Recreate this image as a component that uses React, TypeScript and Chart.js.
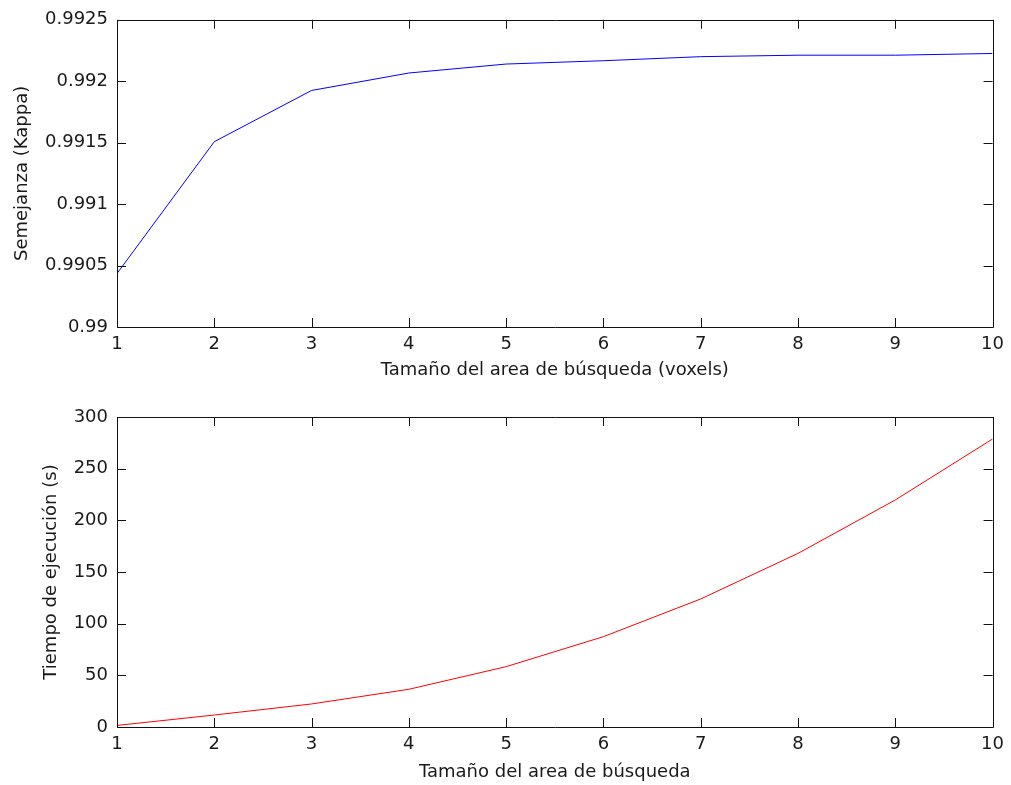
import React, { useEffect, useRef } from "react";
import { Chart, registerables } from "chart.js";

Chart.register(...registerables);

const xValues = [1, 2, 3, 4, 5, 6, 7, 8, 9, 10];
const kappaValues = [0.990435, 0.991508, 0.991925, 0.992067, 0.99214, 0.992167, 0.9922, 0.992212, 0.992212, 0.992226];
const timeValues = [1.5, 11.6, 22.3, 36.5, 58.4, 87.4, 123.9, 168, 219.7, 278.7];

const topXTitle = "Tamaño del area de búsqueda (voxels)";
const topYTitle = "Semejanza (Kappa)";
const bottomXTitle = "Tamaño del area de búsqueda";
const bottomYTitle = "Tiempo de ejecución (s)";

const FONT = "'DejaVu Sans', sans-serif";
const TEXT = "#1a1a1a";

const boxPlugin = {
  id: "matlabBox",
  afterDraw(chart: any) {
    const { ctx, chartArea } = chart;
    const { left, right, top, bottom } = chartArea;
    const tl = 9;
    ctx.save();
    ctx.strokeStyle = "#111";
    ctx.lineWidth = 1;
    ctx.beginPath();
    ctx.rect(Math.round(left) + 0.5, Math.round(top) + 0.5, Math.round(right - left), Math.round(bottom - top));
    const xs = chart.scales.x;
    xs.ticks.forEach((t: any) => {
      const px = Math.round(xs.getPixelForValue(t.value)) + 0.5;
      ctx.moveTo(px, bottom);
      ctx.lineTo(px, bottom - tl);
      ctx.moveTo(px, top);
      ctx.lineTo(px, top + tl);
    });
    const ys = chart.scales.y;
    ys.ticks.forEach((t: any) => {
      const py = Math.round(ys.getPixelForValue(t.value)) + 0.5;
      ctx.moveTo(left, py);
      ctx.lineTo(left + tl, py);
      ctx.moveTo(right, py);
      ctx.lineTo(right - tl, py);
    });
    ctx.stroke();
    ctx.restore();
  },
};

function makeConfig(opts: {
  data: number[];
  color: string;
  yMin: number;
  yMax: number;
  yStep: number;
  xTitle: string;
  yTitle: string;
  padTop: number;
  xAxisHeight: number;
  xTitlePadBottom: number;
  yTitlePadTop: number;
  fmt: (v: number) => string;
}): any {
  return {
    type: "line",
    data: {
      datasets: [
        {
          data: xValues.map((x, i) => ({ x, y: opts.data[i] })),
          borderColor: opts.color,
          borderWidth: 1,
          pointRadius: 0,
          tension: 0,
          fill: false,
        },
      ],
    },
    options: {
      responsive: false,
      animation: false,
      events: [],
      layout: { padding: { top: opts.padTop, right: 16, left: 0, bottom: 0 } },
      plugins: { legend: { display: false }, tooltip: { enabled: false } },
      scales: {
        x: {
          type: "linear",
          min: 1,
          max: 10,
          grid: { display: false, drawTicks: false, tickLength: 0 },
          border: { display: false },
          ticks: {
            stepSize: 1,
            padding: 7,
            color: TEXT,
            font: { family: FONT, size: 18 },
            maxRotation: 0,
            autoSkip: false,
          },
          title: {
            display: true,
            text: opts.xTitle,
            color: TEXT,
            font: { family: FONT, size: 18 },
            padding: { top: 0, bottom: opts.xTitlePadBottom },
          },
          afterFit: (s: any) => {
            s.height = opts.xAxisHeight;
          },
        },
        y: {
          type: "linear",
          min: opts.yMin,
          max: opts.yMax,
          grid: { display: false, drawTicks: false, tickLength: 0 },
          border: { display: false },
          ticks: {
            stepSize: opts.yStep,
            padding: 9,
            color: TEXT,
            font: { family: FONT, size: 18 },
            callback: (v: any) => opts.fmt(Number(v)),
          },
          title: {
            display: true,
            text: opts.yTitle,
            color: TEXT,
            font: { family: FONT, size: 18 },
            padding: { top: opts.yTitlePadTop, bottom: 0 },
          },
          afterFit: (s: any) => {
            s.width = 117;
          },
        },
      },
    },
    plugins: [boxPlugin],
  };
}

export default function App() {
  const topRef = useRef<HTMLCanvasElement | null>(null);
  const botRef = useRef<HTMLCanvasElement | null>(null);

  useEffect(() => {
    const c1 = new Chart(
      topRef.current as HTMLCanvasElement,
      makeConfig({
        data: kappaValues,
        color: "#0000ff",
        yMin: 0.99,
        yMax: 0.9925,
        yStep: 0.0005,
        xTitle: topXTitle,
        yTitle: topYTitle,
        padTop: 17,
        xAxisHeight: 65,
        xTitlePadBottom: 11,
        yTitlePadTop: 12,
        fmt: (v) => String(Number(v.toFixed(4))),
      })
    );
    const c2 = new Chart(
      botRef.current as HTMLCanvasElement,
      makeConfig({
        data: timeValues,
        color: "#ff0000",
        yMin: 0,
        yMax: 300,
        yStep: 50,
        xTitle: bottomXTitle,
        yTitle: bottomYTitle,
        padTop: 25,
        xAxisHeight: 58,
        xTitlePadBottom: 2,
        yTitlePadTop: 41,
        fmt: (v) => String(Math.round(v)),
      })
    );
    return () => {
      c1.destroy();
      c2.destroy();
    };
  }, []);

  return (
    <div
      style={{
        position: "absolute",
        left: 0,
        top: 0,
        width: 1011,
        height: 785,
        background: "#fff",
      }}
    >
      <canvas
        ref={topRef}
        width={1011}
        height={392}
        style={{ position: "absolute", left: 0, top: 0, width: 1011, height: 392, display: "block" }}
      />
      <canvas
        ref={botRef}
        width={1011}
        height={393}
        style={{ position: "absolute", left: 0, top: 392, width: 1011, height: 393, display: "block" }}
      />
    </div>
  );
}
